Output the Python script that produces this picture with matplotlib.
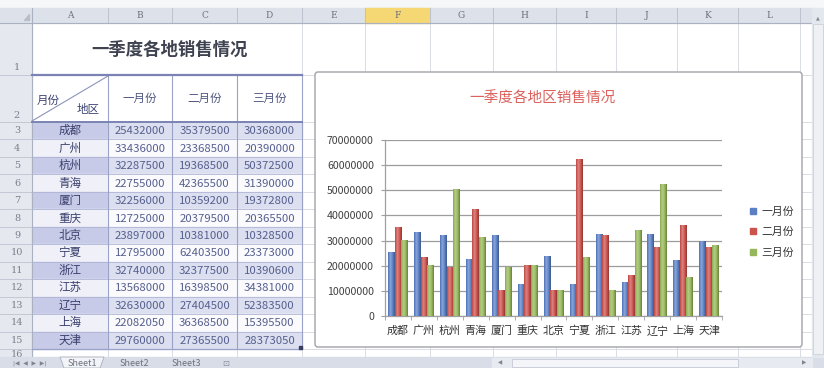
import numpy as np
import matplotlib.pyplot as plt
from matplotlib.patches import Rectangle, FancyBboxPatch, Polygon
from matplotlib.colors import to_rgb
from matplotlib.ticker import FuncFormatter

plt.rcParams['font.family'] = ['Noto Sans CJK SC', 'DejaVu Sans']

# data from the sheet
cities = ['成都', '广州', '杭州', '青海', '厦门', '重庆', '北京', '宁夏', '浙江', '江苏', '辽宁', '上海', '天津']
months = ['一月份', '二月份', '三月份']
jan = [25432000, 33436000, 32287500, 22755000, 32256000, 12725000, 23897000,
       12795000, 32740000, 13568000, 32630000, 22082050, 29760000]
feb = [35379500, 23368500, 19368500, 42365500, 10359200, 20379500, 10381000,
       62403500, 32377500, 16398500, 27404500, 36368500, 27365500]
mar = [30368000, 20390000, 50372500, 31390000, 19372800, 20365500, 10328500,
       23373000, 10390600, 34381000, 52383500, 15395500, 28373050]
col_letters = list('ABCDEFGHIJKL')
sheet_tabs = ['Sheet1', 'Sheet2', 'Sheet3']
table_title = '一季度各地销售情况'
chart_title = '一季度各地区销售情况'
corner_labels = ('月份', '地区')

W, H = 824, 368
fig = plt.figure(figsize=(W / 100, H / 100), dpi=100)
fig.patch.set_facecolor('#f6f7f9')
sh = fig.add_axes([0, 0, 1, 1])
sh.set_xlim(0, W)
sh.set_ylim(H, 0)
sh.axis('off')

# grid geometry (pixels)
col_x = [32, 108, 172, 237, 302, 365, 430, 493, 556, 616, 677, 738, 800, 812]
row_h = 17.46
row_y = [23, 75, 122] + [122 + row_h * (i + 1) for i in range(len(cities))] + [366]
grid_c = '#d9dce4'

# sheet background
sh.add_patch(Rectangle((32, 23), 780, 334, color='white', zorder=0))

# column headers
sh.add_patch(Rectangle((0, 8), 812, 15, color='#dde2ea', zorder=1))
sh.add_patch(Rectangle((col_x[5], 8), col_x[6] - col_x[5], 15, color='#f5d874', zorder=1))
for i, letter in enumerate(col_letters):
    xc = (col_x[i] + col_x[i + 1]) / 2
    sh.text(xc, 16, letter, ha='center', va='center', fontsize=6.5,
            color='#6c6f7c', family='DejaVu Serif', zorder=2)
for xv in col_x:
    sh.plot([xv, xv], [8, 23], color='#bcc2cf', lw=0.7, zorder=2)
sh.plot([0, 812], [23, 23], color='#aab1c0', lw=0.8, zorder=2)
sh.add_patch(Polygon([[24, 20], [29, 20], [29, 14]], color='#b8bdc9', zorder=2))

# row headers (row 16 is cut by the tab bar)
sh.add_patch(Rectangle((0, 23), 32, 334, color='#e5e8ef', zorder=1))
for i in range(len(row_y) - 1):
    sh.plot([0, 32], [row_y[i + 1], row_y[i + 1]], color='#c3c8d4', lw=0.7, zorder=2)
    if i < 2:
        yb = row_y[i + 1] - 7
    elif i < len(row_y) - 2:
        yb = (row_y[i] + row_y[i + 1]) / 2
    else:
        yb = row_y[i] + 6
    txt = sh.text(17, yb, str(i + 1), ha='center', va='center', fontsize=7,
                  color='#7c7f8c', family='DejaVu Serif', zorder=2)
    if i == len(row_y) - 2:
        txt.set_clip_path(Rectangle((0, row_y[i]), 32, 357 - row_y[i], transform=sh.transData))
sh.plot([32, 32], [8, 357], color='#aab1c0', lw=0.8, zorder=2)

# sheet gridlines on the right part
for xv in col_x[4:]:
    sh.plot([xv, xv], [23, 357], color=grid_c, lw=0.7, zorder=1)
for yv in row_y[1:]:
    sh.plot([302, 812], [yv, yv], color=grid_c, lw=0.7, zorder=1)
for xv in col_x[:4]:
    sh.plot([xv, xv], [row_y[-2], 357], color=grid_c, lw=0.7, zorder=1)

# table title (merged A1:D1)
sh.text(170, 50, table_title, ha='center', va='center', fontsize=12.5,
        fontweight='bold', color='#3f4250', zorder=3)

# header row
sh.plot([32, 108], [121, 76], color='#8d94ba', lw=0.8, zorder=3)
sh.text(48, 100, corner_labels[0], ha='center', va='center', fontsize=8.3, color='#3c4272', zorder=3)
sh.text(88, 110, corner_labels[1], ha='center', va='center', fontsize=8.3, color='#3c4272', zorder=3)
for j, m in enumerate(months):
    xc = (col_x[j + 1] + col_x[j + 2]) / 2
    sh.text(xc, 98, m, ha='center', va='center', fontsize=8.3, color='#4e5680', zorder=3)

# data rows
values = [jan, feb, mar]
for i, city in enumerate(cities):
    y0, y1 = row_y[i + 2], row_y[i + 3]
    yc = (y0 + y1) / 2
    shaded = i % 2 == 0
    sh.add_patch(Rectangle((32, y0), 76, y1 - y0,
                           color='#c7cbe7' if shaded else '#eff0f8', zorder=1))
    sh.add_patch(Rectangle((108, y0), 194, y1 - y0,
                           color='#dcdff0' if shaded else '#fbfbfe', zorder=1))
    sh.text(70, yc, city, ha='center', va='center', fontsize=8.3, color='#383e6c', zorder=3)
    for j in range(3):
        xc = (col_x[j + 1] + col_x[j + 2]) / 2
        sh.text(xc, yc + 0.5, str(values[j][i]), ha='center', va='center',
                fontsize=8.2, color='#56608e', zorder=3)
    sh.plot([32, 302], [y1, y1], color='#aeb4d4', lw=0.6, zorder=2)

for xv in col_x[1:5]:
    sh.plot([xv, xv], [75, row_y[-2]], color='#9aa2c8', lw=0.8, zorder=2)
sh.plot([32, 302], [75, 75], color='#7a83b3', lw=1.6, zorder=3)
sh.plot([32, 302], [122, 122], color='#7a83b3', lw=1.4, zorder=3)
sh.plot([32, 302], [row_y[-2], row_y[-2]], color='#9aa2c8', lw=0.9, zorder=3)
sh.add_patch(Rectangle((299, row_y[-2] - 3), 3, 3, color='#3a3f60', zorder=4))

# chart frame
sh.add_patch(FancyBboxPatch((315, 72), 487, 275, boxstyle='round,pad=0,rounding_size=3',
                            facecolor='white', edgecolor='#a2a2a8', lw=1.0, zorder=5))
sh.text(542, 99, chart_title, ha='center', va='center', fontsize=10.5,
        color='#dc605b', zorder=6)

# bottom tab bar + scrollbars
sh.add_patch(Rectangle((0, 357), W, 11, color='#d8dde7', zorder=6))
sh.text(30, 363, '|◀  ◀  ▶  ▶|', ha='center', va='center', fontsize=4.2,
        color='#7f8492', family='DejaVu Sans', zorder=7)
sh.add_patch(Polygon([[60, 357], [104, 357], [100, 368], [64, 368]],
                     facecolor='#f3f4f7', edgecolor='#a9afbd', lw=0.6, zorder=7))
for k, tab in enumerate(sheet_tabs):
    sh.text(82 + k * 52, 363, tab, ha='center', va='center', fontsize=6.5,
            color='#6e7382', zorder=8)
sh.text(226, 363, '⊡', ha='center', va='center', fontsize=6, color='#8c90a0',
        family='DejaVu Sans', zorder=8)
sh.add_patch(Rectangle((492, 358), 320, 10, color='#e7eaf0', zorder=7))
sh.add_patch(Rectangle((512, 359), 226, 8, facecolor='#f4f5f8', edgecolor='#c4c9d4', lw=0.6, zorder=8))
sh.text(500, 363, '◀', ha='center', va='center', fontsize=4, color='#7f8492',
        family='DejaVu Sans', zorder=8)
sh.text(804, 363, '▶', ha='center', va='center', fontsize=4, color='#7f8492',
        family='DejaVu Sans', zorder=8)
sh.add_patch(Rectangle((812, 8), 12, 349, color='#e3e7ee', zorder=6))
sh.add_patch(Rectangle((813, 24), 10, 330, facecolor='#eef0f4', edgecolor='#c8cdd7', lw=0.5, zorder=7))
sh.text(818, 18, '▲', ha='center', va='center', fontsize=3.5, color='#7f8492',
        family='DejaVu Sans', zorder=8)

# chart plot area
ax = fig.add_axes([385 / W, (H - 316) / H, 337 / W, 176 / H])
ax.set_facecolor('none')
ax.set_zorder(10)
colors = ['#5a7fc5', '#cc524c', '#96b759']
x = np.arange(len(cities))
bw = 0.25
t = np.linspace(0, 1, 32)
kprof = np.interp(t, [0, 0.35, 0.7, 1], [-0.1, 0.3, 0.0, -0.3])


def shade(c, k):
    c = np.array(to_rgb(c))
    return c + (1 - c) * k if k > 0 else c * (1 + k)


for s, (vals, c) in enumerate(zip(values, colors)):
    bars = ax.bar(x + (s - 1) * bw, vals, bw, color=c, edgecolor='none', zorder=3)
    grad = np.array([shade(c, k) for k in kprof])[None, :, :]
    for b in bars:
        im = ax.imshow(grad, extent=[b.get_x(), b.get_x() + b.get_width(), 0, b.get_height()],
                       aspect='auto', zorder=3.1, interpolation='bilinear')
        im.set_clip_path(b)

ax.set_xlim(-0.5, len(cities) - 0.5)
ax.set_ylim(0, 70000000)
ax.set_yticks(np.arange(0, 70000001, 10000000))
ax.yaxis.set_major_formatter(FuncFormatter(lambda v, p: f'{int(v)}'))
ax.grid(axis='y', color='#9c9c9c', lw=0.9)
ax.set_axisbelow(True)
for side in ('top', 'right'):
    ax.spines[side].set_visible(False)
for side in ('left', 'bottom'):
    ax.spines[side].set_color('#a0a0a0')
    ax.spines[side].set_linewidth(0.9)
ax.tick_params(axis='y', length=3, color='#a0a0a0', pad=5, labelsize=7.6, labelcolor='#404040')
ax.set_xticks(x)
ax.set_xticklabels(cities, fontsize=7.9, color='#333333')
ax.set_xticks(np.arange(-0.5, len(cities), 1), minor=True)
ax.tick_params(axis='x', which='major', length=0, pad=7)
ax.tick_params(axis='x', which='minor', length=3, color='#a0a0a0')

handles = [Rectangle((0, 0), 1, 1, color=c) for c in colors]
ax.legend(handles, months, loc='center left', bbox_to_anchor=(745 / W, 1 - 232 / H),
          bbox_transform=fig.transFigure, frameon=False, fontsize=7.8,
          handlelength=0.5, handleheight=0.5, handletextpad=0.5, labelspacing=0.95,
          borderpad=0, labelcolor='#333333')

fig.savefig('out.png', dpi=100)
